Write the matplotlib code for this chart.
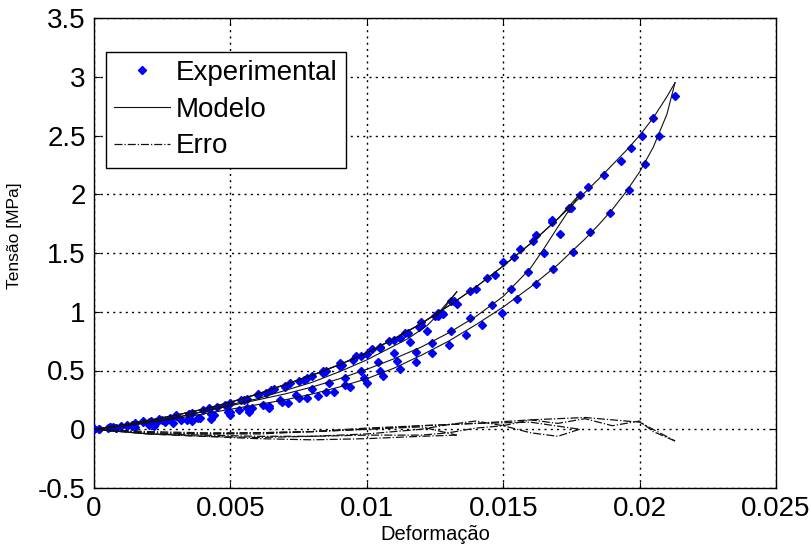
import matplotlib as mpl
mpl.use('Agg')
import matplotlib.pyplot as plt
from matplotlib.ticker import MultipleLocator, FormatStrFormatter

plt.rcParams['font.family'] = ['Liberation Sans', 'DejaVu Sans']
plt.rcParams['axes.unicode_minus'] = False

# ---- experimental points (strain, stress in MPa), per load / unload branch ----
exp1_load_x = [0, .0005, .001, .0015, .002, .0025, .003, .0035, .004, .0045, .005, .0055, .006, .0065,
               .007, .0075, .008, .0085, .009, .0095, .010, .0105, .011, .0115, .012, .0125, .0131]
exp1_load_y = [0, .01, .03, .05, .06, .08, .11, .13, .16, .19, .22, .25, .29, .33,
               .37, .41, .45, .50, .54, .59, .64, .70, .76, .82, .89, .96, 1.09]
exp1_unl_x = [.0128, .0122, .0116, .011, .0104, .0098, .0092, .0086, .008, .0074, .0068, .0062, .0056,
              .005, .0044, .0038, .0032, .0026, .002, .0014, .0008, .0002]
exp1_unl_y = [.98, .84, .74, .65, .57, .50, .44, .39, .34, .29, .25, .21, .18,
              .15, .12, .10, .08, .06, .04, .03, .01, 0]
exp2_load_x = [0, .0006, .0012, .0018, .0024, .003, .0036, .0042, .0048, .0054, .006, .0066, .0072, .0078,
               .0084, .009, .0096, .0102, .0108, .0114, .012, .0126, .0132, .0138, .0144, .015, .0156,
               .0162, .0168, .0174, .0178]
exp2_load_y = [0, .02, .04, .06, .09, .12, .14, .18, .21, .25, .30, .34, .39, .44,
               .50, .56, .62, .68, .75, .82, .91, .99, 1.09, 1.18, 1.29, 1.42, 1.53,
               1.65, 1.78, 1.88, 1.99]
exp2_unl_x = [.0171, .0165, .0159, .0153, .0146, .0138, .0131, .0124, .0118, .0111, .0105, .0099, .0092,
              .0085, .0078, .0071, .0064, .0057, .005, .0043, .0036, .0029, .0022, .0015, .0008, .0002]
exp2_unl_y = [1.66, 1.50, 1.34, 1.19, 1.06, .95, .84, .73, .66, .58, .50, .44, .38,
              .32, .27, .22, .18, .15, .12, .09, .07, .05, .03, .02, .01, 0]
exp3_load_x = [0, .0007, .0014, .0021, .0028, .0035, .0042, .0049, .0056, .0063, .007, .0077, .0084,
               .0091, .0098, .0105, .0112, .0119, .0126, .0133, .014, .0147, .0154, .0161, .0168,
               .0175, .0181, .0187, .0193, .0197, .0201, .0205, .0213]
exp3_load_y = [0, .02, .04, .07, .10, .13, .17, .21, .26, .31, .36, .42, .48,
               .55, .62, .69, .78, .87, .96, 1.07, 1.19, 1.31, 1.47, 1.60, 1.76,
               1.88, 2.06, 2.16, 2.28, 2.39, 2.50, 2.65, 2.84]
exp3_unl_x = [.0207, .0202, .0196, .0189, .0182, .01757, .01684, .01622, .01552, .01497, .01424, .01365,
              .01303, .0124, .01182, .0112, .01058, .01, .0094, .0088, .0082, .0075, .0069, .0064,
              .0058, .0053, .0049, .0043, .0039, .0034, .0028, .0023, .0018, .0012, .0006, 0]
exp3_unl_y = [2.5, 2.26, 2.04, 1.84, 1.68, 1.51, 1.36, 1.24, 1.11, .99, .89, .80,
              .72, .65, .57, .51, .45, .39, .36, .32, .28, .27, .23, .20,
              .18, .16, .145, .13, .10, .08, .09, .06, .07, .03, .02, 0]

# ---- model curves ----
mod1_load_x = [0, .001, .002, .003, .004, .005, .006, .007, .008, .009, .010, .011, .012, .0127, .0133]
mod1_load_y = [0, .035, .075, .12, .17, .23, .30, .38, .46, .55, .65, .77, .90, 1.01, 1.17]
mod1_unl_x = [.0133, .0128, .0122, .0115, .011, .010, .009, .008, .007, .006, .005, .004, .003, .002, .001, 0]
mod1_unl_y = [1.17, 1.02, .88, .77, .71, .59, .49, .40, .33, .26, .21, .15, .10, .06, .03, 0]
mod2_load_x = [0, .001, .002, .003, .004, .005, .006, .007, .008, .009, .010, .011, .012, .013, .014,
               .015, .016, .017, .0178]
mod2_load_y = [0, .035, .075, .12, .17, .23, .30, .38, .46, .55, .65, .77, .90, 1.05, 1.21,
               1.39, 1.58, 1.79, 2.0]
mod2_unl_x = [.0178, .0174, .017, .0165, .016, .015, .014, .013, .012, .011, .010, .009, .008, .007,
              .006, .005, .004, .003, .002, .001, 0]
mod2_unl_y = [2.0, 1.86, 1.72, 1.54, 1.37, 1.13, .96, .82, .70, .60, .51, .43, .36, .30,
              .25, .20, .15, .10, .06, .025, 0]
mod3_load_x = [0, .001, .002, .003, .004, .005, .006, .007, .008, .009, .010, .011, .012, .013, .014,
               .015, .016, .017, .0178, .0185, .019, .0195, .020, .0205, .021, .0213]
mod3_load_y = [0, .035, .075, .12, .17, .23, .30, .38, .46, .55, .65, .77, .90, 1.05, 1.21,
               1.39, 1.58, 1.79, 1.97, 2.13, 2.25, 2.37, 2.5, 2.65, 2.83, 2.95]
mod3_unl_x = [.0213, .0210, .0205, .020, .0195, .019, .0185, .018, .017, .016, .015, .014, .013, .012,
              .011, .010, .009, .008, .007, .006, .005, .004, .003, .002, .001, 0]
mod3_unl_y = [2.95, 2.68, 2.40, 2.19, 2.02, 1.87, 1.74, 1.62, 1.40, 1.21, 1.04, .89, .75, .63,
              .52, .43, .36, .30, .25, .21, .17, .13, .09, .055, .025, 0]

# ---- error curves ----
err_series = [
    ([0, .002, .004, .006, .008, .010, .012, .0133],
     [0, -.02, -.03, -.03, -.02, 0, .02, -.05]),
    ([.0133, .012, .010, .008, .006, .004, .002, 0],
     [-.05, -.06, -.08, -.09, -.08, -.06, -.04, 0]),
    ([0, .002, .004, .006, .008, .010, .012, .014, .016, .0178],
     [0, -.03, -.04, -.03, -.02, 0, .03, .05, .06, 0]),
    ([.0178, .017, .016, .015, .014, .013, .012, .010, .008, .006, .004, .002, 0],
     [0, -.06, -.03, .03, .07, .04, 0, -.04, -.06, -.06, -.05, -.04, 0]),
    ([0, .002, .004, .006, .008, .010, .012, .014, .016, .018, .020, .0213],
     [0, -.03, -.04, -.04, -.02, .01, .03, .05, .08, .10, .06, -.10]),
    ([.0213, .0205, .020, .019, .018, .017, .016, .015, .014, .013, .012, .010, .008, .006, .004, .002, 0],
     [-.10, -.02, .07, .03, .09, .05, .08, .03, .01, -.03, -.05, -.05, -.06, -.07, -.06, -.04, 0]),
]

exp_series = [(exp1_load_x, exp1_load_y), (exp1_unl_x, exp1_unl_y),
              (exp2_load_x, exp2_load_y), (exp2_unl_x, exp2_unl_y),
              (exp3_load_x, exp3_load_y), (exp3_unl_x, exp3_unl_y)]
mod_series = [(mod1_load_x, mod1_load_y), (mod1_unl_x, mod1_unl_y),
              (mod2_load_x, mod2_load_y), (mod2_unl_x, mod2_unl_y),
              (mod3_load_x, mod3_load_y), (mod3_unl_x, mod3_unl_y)]

fig = plt.figure(figsize=(8.11, 5.44), dpi=100)
ax = fig.add_axes([94/811, 56/544, 682/811, 470/544])

for i, (x, y) in enumerate(exp_series):
    ax.plot(x, y, linestyle='none', marker='D', ms=3.8, color='#0000ff', mec='#0000ff',
            label='Experimental' if i == 0 else None, zorder=3)
for i, (x, y) in enumerate(mod_series):
    ax.plot(x, y, '-', color='#111111', lw=0.8, label='Modelo' if i == 0 else None, zorder=4)
for i, (x, y) in enumerate(err_series):
    ax.plot(x, y, '-.', color='#111111', lw=0.9, label='Erro' if i == 0 else None, zorder=4)

ax.set_xlim(0, 0.025)
ax.set_ylim(-0.5, 3.5)
ax.xaxis.set_major_locator(MultipleLocator(0.005))
ax.yaxis.set_major_locator(MultipleLocator(0.5))
ax.xaxis.set_major_formatter(FormatStrFormatter('%g'))
ax.yaxis.set_major_formatter(FormatStrFormatter('%g'))
ax.tick_params(direction='in', length=4, width=0.8, labelsize=20, top=True, right=True, pad=6)
ax.grid(True, color='black', linestyle=(0, (1.5, 3)), linewidth=1.0)
for s in ax.spines.values():
    s.set_linewidth(1.0)

ax.set_xlabel('Deformação', fontsize=14.5, labelpad=2)
ax.set_ylabel('Tensão [MPa]', fontsize=12.5)
ax.yaxis.set_label_coords(-0.105, 0.536)

leg = ax.legend(loc='upper left', bbox_to_anchor=(0.0176, 0.928), borderaxespad=0,
                fontsize=20, numpoints=1, fancybox=False, framealpha=1, edgecolor='black',
                handlelength=2.0, handletextpad=0.2, labelspacing=0.38, borderpad=0.3)
leg.get_frame().set_linewidth(1.0)

plt.savefig('out.png', dpi=100)
